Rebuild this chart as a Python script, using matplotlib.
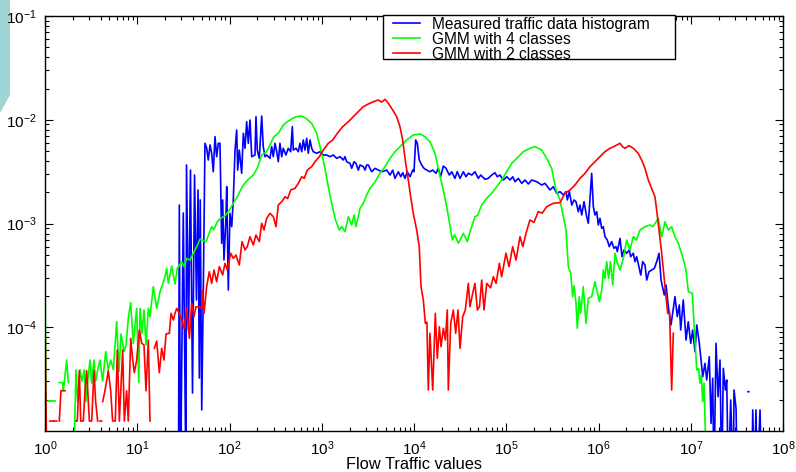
import matplotlib
matplotlib.use("Agg")
import matplotlib.pyplot as plt
import numpy as np
from matplotlib.ticker import LogLocator, FixedLocator, FixedFormatter, NullFormatter
from matplotlib.patches import Polygon, Rectangle

plt.rcParams['font.family'] = ['Liberation Sans', 'DejaVu Sans']
plt.rcParams['mathtext.fontset'] = 'custom'
plt.rcParams['mathtext.rm'] = 'Liberation Sans'
plt.rcParams['mathtext.default'] = 'regular'

nan = np.nan

# values, as log10 of flow traffic value / log10 of frequency
# (nan = empty bins, -5.5 = tiny value below the bottom of the axes)
meas_lx = [1.447, 1.456, 1.469, 1.499, 1.528, 1.534, 1.556, 1.577, 1.599, 1.621, 1.642, 1.659, 1.673,
           1.683, 1.699, 1.716, 1.734, 1.753, 1.770, 1.789, 1.807, 1.824, 1.843, 1.861, 1.879, 1.897,
           1.915, 1.926, 1.940, 1.959, 1.970, 1.987, 2.005, 2.024, 2.041, 2.060, 2.078, 2.089, 2.106,
           2.132, 2.150, 2.168, 2.186, 2.204, 2.222, 2.241, 2.276, 2.287, 2.301, 2.323, 2.349, 2.366,
           2.385, 2.403, 2.439, 2.457, 2.475, 2.493, 2.512, 2.529, 2.547, 2.566, 2.583, 2.612, 2.637,
           2.663, 2.681, 2.692, 2.721, 2.746, 2.764, 2.783, 2.800, 2.818, 2.837, 2.854, 2.873, 2.891,
           2.908, 2.945, 2.981, 3.017, 3.054, 3.089, 3.125, 3.162, 3.198, 3.234, 3.252, 3.270, 3.306,
           3.325, 3.350, 3.371, 3.396, 3.415, 3.451, 3.469, 3.487, 3.505, 3.541, 3.577, 3.613, 3.650,
           3.704, 3.740, 3.769, 3.794, 3.830, 3.856, 3.878, 3.902, 3.927, 3.957, 3.986, 4.000, 4.018,
           4.036, 4.057, 4.083, 4.108, 4.138, 4.173, 4.203, 4.239, 4.263, 4.289, 4.318, 4.347, 4.383,
           4.409, 4.444, 4.469, 4.499, 4.535, 4.564, 4.589, 4.626, 4.661, 4.697, 4.723, 4.770, 4.805,
           4.842, 4.878, 4.903, 4.932, 4.968, 5.005, 5.041, 5.070, 5.095, 5.131, 5.168, 5.203, 5.239,
           5.276, 5.330, 5.384, 5.420, 5.474, 5.510, 5.547, 5.583, 5.619, 5.648, 5.662, 5.684, 5.710,
           5.734, 5.756, 5.781, 5.799, 5.818, 5.843, 5.872, 5.890, 5.926, 5.944, 5.962, 5.981, 5.998,
           6.016, 6.035, 6.052, 6.070, 6.095, 6.117, 6.143, 6.168, 6.190, 6.204, 6.233, 6.255, 6.276,
           6.306, 6.334, 6.349, 6.377, 6.396, 6.414, 6.458, 6.479, 6.504, 6.523, 6.547, 6.577, 6.605,
           6.631, 6.656, 6.678, 6.713, 6.732, 6.757, 6.786, 6.829, 6.854, 6.876, 6.891, 6.919, 6.949,
           6.973, 7.000, 7.021, 7.046, 7.065, 7.093, 7.130, 7.154, 7.173, 7.201, 7.220, 7.238, 7.252,
           7.274, 7.296, 7.317, 7.336, 7.353, 7.375, 7.390, 7.407, 7.433, 7.461, 7.469, 7.491, 7.505,
           7.560, 7.621, 7.629, 7.640, 7.661, 7.672, 7.689, 7.707, 7.721, 7.751, 7.769]
meas_ly = [-5.5, -2.822, -5.5, -2.899, -5.5, -2.436, -4.027, -2.485, -4.634, -2.533, -3.737, -2.677, -4.489,
           -2.773, -4.797, -3.641, -2.227, -2.275, -2.388, -2.243, -2.323, -2.501, -2.163, -2.356, -2.227, -2.227,
           -3.191, -2.773, -3.352, -2.998, -2.645, -3.641, -2.902, -3.031, -2.773, -2.292, -2.099, -2.485, -2.292,
           -2.516, -2.131, -2.275, -2.019, -2.227, -2.003, -2.356, -2.340, -1.971, -2.292, -2.372, -1.964, -2.260,
           -2.356, -2.340, -2.372, -2.260, -2.356, -2.227, -2.308, -2.404, -2.227, -2.356, -2.275, -2.340, -2.275,
           -2.308, -2.067, -2.292, -2.275, -2.308, -2.227, -2.308, -2.195, -2.292, -2.179, -2.323, -2.195, -2.275,
           -2.308, -2.323, -2.308, -2.340, -2.340, -2.356, -2.340, -2.372, -2.356, -2.388, -2.356, -2.404, -2.420,
           -2.468, -2.404, -2.420, -2.485, -2.436, -2.452, -2.485, -2.436, -2.436, -2.501, -2.468, -2.485, -2.501,
           -2.485, -2.533, -2.485, -2.565, -2.501, -2.549, -2.511, -2.565, -2.501, -2.549, -2.485, -2.501, -2.195,
           -2.227, -2.388, -2.436, -2.468, -2.485, -2.501, -2.485, -2.516, -2.468, -2.549, -2.446, -2.468, -2.533,
           -2.501, -2.565, -2.501, -2.565, -2.501, -2.549, -2.516, -2.533, -2.501, -2.565, -2.533, -2.574, -2.565,
           -2.533, -2.511, -2.549, -2.533, -2.581, -2.549, -2.581, -2.549, -2.597, -2.565, -2.613, -2.581, -2.619,
           -2.581, -2.597, -2.629, -2.613, -2.677, -2.645, -2.709, -2.693, -2.725, -2.693, -2.773, -2.693, -2.822,
           -2.773, -2.790, -2.886, -2.822, -2.918, -2.790, -2.934, -2.998, -2.516, -2.838, -2.918, -2.886, -3.014,
           -2.950, -3.047, -3.031, -3.127, -3.159, -3.223, -3.175, -3.239, -3.223, -3.272, -3.143, -3.320, -3.255,
           -3.287, -3.255, -3.320, -3.287, -3.368, -3.320, -3.497, -3.368, -3.400, -3.545, -3.465, -3.448, -3.432,
           -3.368, -3.287, -3.545, -3.689, -3.593, -3.802, -3.978, -3.705, -3.898, -3.785, -4.027, -3.737, -4.123,
           -3.947, -4.155, -4.027, -4.236, -3.978, -4.155, -4.477, -4.348, -4.508, -4.284, -4.926, -4.492, -5.5,
           -4.155, -4.669, -4.316, -5.5, -4.396, -4.605, -4.508, -5.5, -4.701, -5.5, -4.605, -4.782, -5.5,
           nan, -4.621, -4.621, nan, -5.5, -4.797, -5.5, -4.797, -5.5, -4.797, -5.5]

gmm4_lx = [0.000, 0.020, nan, 0.036, 0.070, nan, 0.080, 0.110, nan,
           0.155, 0.192, 0.199, 0.235, 0.253, nan,
           0.307, 0.336, 0.354, 0.379, 0.401, 0.426, 0.444, 0.463, 0.488, 0.506, 0.531, 0.549, 0.571,
           0.596, 0.625, 0.658, 0.686, 0.712, 0.741, 0.777, 0.802, 0.824, 0.856, 0.878, 0.903, 0.929,
           0.957, 0.994, 1.016, 1.030, 1.051, 1.073, 1.095, 1.120, 1.138, 1.174, 1.211, 1.247, 1.301,
           1.319, 1.337, 1.373, 1.409, 1.434, 1.482, 1.507, 1.536, 1.572, 1.626, 1.662, 1.680, 1.745,
           1.807, 1.830, 1.868, 1.904, 1.951, 1.998, 2.041, 2.085, 2.121, 2.150, 2.204, 2.258, 2.301,
           2.349, 2.403, 2.447, 2.482, 2.529, 2.583, 2.627, 2.685, 2.728, 2.783, 2.829, 2.891, 2.945,
           2.981, 3.024, 3.071, 3.107, 3.144, 3.190, 3.215, 3.252, 3.288, 3.325, 3.350, 3.371, 3.415,
           3.451, 3.487, 3.523, 3.577, 3.631, 3.686, 3.740, 3.794, 3.848, 3.920, 3.992, 4.065, 4.119,
           4.173, 4.228, 4.275, 4.318, 4.361, 4.416, 4.440, 4.481, 4.535, 4.578, 4.607, 4.661, 4.690,
           4.734, 4.788, 4.842, 4.897, 4.951, 5.005, 5.059, 5.113, 5.185, 5.257, 5.312, 5.384, 5.438,
           5.492, 5.539, 5.583, 5.619, 5.648, 5.673, 5.699, 5.720, 5.735, 5.756, 5.770, 5.792, 5.807,
           5.835, 5.864, 5.890, 5.926, 5.962, 6.009, 6.035, 6.052, 6.070, 6.089, 6.110, 6.130, 6.154,
           6.179, 6.200, 6.233, 6.269, 6.306, 6.341, 6.377, 6.410, 6.450, 6.504, 6.558, 6.590, 6.648,
           6.685, 6.721, 6.757, 6.793, 6.829, 6.865, 6.912, 6.948, 6.974, 7.017, 7.039, 7.065, 7.085,
           7.100, 7.115, 7.129, 7.144, 7.173]
gmm4_ly = [-3.53, -5.5, nan, -4.71, -4.71, nan, -4.71, -4.71, nan,
           -4.534, -4.534, -4.61, -4.316, -4.534, nan,
           -5.5, -4.41, -4.717, -4.41, -4.52, -4.41, -4.717, -4.52, -4.316, -4.54, -4.316, -4.52, -4.41,
           -4.316, -4.52, -4.235, -4.41, -4.316, -4.41, -3.946, -4.428, -4.065, -4.235, -4.171, -3.914, -3.763,
           -4.155, -3.818, -4.534, -3.818, -4.06, -3.834, -4.171, -3.818, -3.898, -3.609, -3.818, -3.657, -3.513,
           -3.432, -3.577, -3.41, -3.583, -3.432, -3.368, -3.416, -3.336, -3.352, -3.255, -3.191, -3.15, -3.175,
           -3.031, -3.06, -2.983, -2.95, -2.928, -2.87, -2.805, -2.742, -2.677, -2.629, -2.574, -2.532, -2.468,
           -2.34, -2.308, -2.227, -2.163, -2.131, -2.051, -2.019, -1.986, -1.97, -1.964, -1.986, -2.034, -2.131,
           -2.259, -2.42, -2.645, -2.805, -2.95, -3.063, -3.03, -3.079, -2.934, -3.014, -2.918, -3.031, -2.854,
           -2.805, -2.725, -2.661, -2.6, -2.516, -2.452, -2.372, -2.308, -2.259, -2.195, -2.147, -2.137, -2.163,
           -2.212, -2.324, -2.516, -2.677, -2.87, -3.159, -3.11, -3.191, -3.095, -3.175, -3.079, -2.934, -2.92,
           -2.822, -2.757, -2.709, -2.645, -2.581, -2.501, -2.42, -2.372, -2.308, -2.275, -2.259, -2.292, -2.372,
           -2.468, -2.677, -2.773, -2.934, -3.063, -3.416, -3.48, -3.705, -3.6, -3.769, -4.01, -3.705, -3.866,
           -3.609, -3.962, -3.721, -3.705, -3.561, -3.753, -3.641, -3.448, -3.53, -3.368, -3.53, -3.368, -3.593,
           -3.287, -3.368, -3.448, -3.336, -3.159, -3.255, -3.127, -3.16, -3.063, -3.031, -3.014, -3.031, -2.95,
           -3.127, -2.983, -3.063, -3.031, -3.127, -3.191, -3.32, -3.448, -3.657, -3.673, -4.027, -4.412, -4.40,
           -4.54, -4.46, -4.717, -4.54, -5.5]

gmm2_lx = [0.000, 0.020, nan, 0.054, 0.083, nan, 0.098, 0.127, nan,
           0.155, 0.173, 0.217, nan,
           0.336, 0.350, 0.372, 0.387, 0.415, 0.434, 0.452, 0.481, 0.506, 0.531, 0.549, 0.571, nan,
           0.596, 0.614, nan,
           0.625, 0.650, 0.686, 0.712, 0.733, 0.762, 0.784, 0.806, 0.842, 0.860, 0.885, 0.903, 0.929,
           0.951, 0.968, 0.994, 1.023, 1.048, 1.073, 1.095, 1.120, 1.138, nan,
           1.185, 1.211, 1.239, 1.265, 1.290, 1.312, 1.348, 1.366, 1.391, 1.409, 1.428, 1.456, 1.482,
           1.507, 1.536, 1.565, 1.590, 1.615, 1.637, 1.673, 1.699, 1.709, 1.724, 1.752, 1.781, 1.807,
           1.832, 1.861, 1.890, 1.926, 1.951, 1.977, 2.013, 2.041, 2.070, 2.106, 2.136, 2.168, 2.193,
           2.222, 2.258, 2.287, 2.323, 2.349, 2.374, 2.403, 2.439, 2.475, 2.504, 2.529, 2.566, 2.602,
           2.630, 2.664, 2.710, 2.746, 2.783, 2.810, 2.844, 2.891, 2.927, 2.974, 3.017, 3.071, 3.119,
           3.169, 3.227, 3.288, 3.342, 3.396, 3.451, 3.505, 3.559, 3.613, 3.650, 3.686, 3.722, 3.769,
           3.812, 3.848, 3.877, 3.910, 3.938, 3.964, 3.992, 4.029, 4.057, 4.076, 4.101, 4.123, 4.140,
           4.155, 4.173, 4.203, 4.231, 4.253, 4.275, 4.293, 4.318, 4.340, 4.361, 4.372, 4.398, 4.426,
           4.452, 4.477, 4.499, 4.528, 4.556, 4.589, 4.607, 4.636, 4.661, 4.687, 4.710, 4.734, 4.759,
           4.788, 4.830, 4.860, 4.890, 4.925, 4.950, 4.997, 5.030, 5.070, 5.106, 5.149, 5.180, 5.214,
           5.257, 5.300, 5.347, 5.390, 5.438, 5.510, 5.583, 5.637, 5.691, 5.745, 5.799, 5.854, 5.908,
           5.962, 6.016, 6.070, 6.125, 6.179, 6.233, 6.260, 6.287, 6.330, 6.377, 6.431, 6.467, 6.504,
           6.540, 6.576, 6.612, 6.637, 6.656, 6.685, 6.711, 6.732, 6.750, 6.770, 6.793, 6.811]
gmm2_ly = [-3.90, -5.5, nan, -4.904, -4.904, nan, -4.904, -4.904, nan,
           -4.904, -4.612, -4.612, nan,
           -4.904, -4.904, -4.419, -4.904, -4.904, -4.612, -4.419, -4.904, -4.904, -4.419, -4.717, -4.904, nan,
           -4.904, -4.904, nan,
           -4.717, -4.612, -4.419, -4.612, -4.904, -4.904, -4.219, -4.904, -4.219, -4.904, -4.612, -4.904, -4.107,
           -4.316, -4.438, -4.316, -4.027, -4.155, -4.171, -4.612, -4.123, -4.904, nan,
           -4.203, -4.133, -4.438, -4.203, -4.316, -4.065, -4.058, -3.866, -3.93, -3.866, -3.818, -3.866, -3.93,
           -4.01, -3.818, -4.107, -3.769, -3.898, -3.802, -3.802, -3.818, -3.641, -3.866, -3.609, -3.465, -3.577,
           -3.448, -3.561, -3.416, -3.496, -3.384, -3.448, -3.287, -3.336, -3.304, -3.4, -3.175, -3.255, -3.223,
           -3.127, -3.207, -3.111, -3.175, -2.998, -3.063, -2.95, -2.902, -2.934, -3.031, -2.822, -2.79, -2.742,
           -2.76, -2.677, -2.661, -2.613, -2.549, -2.565, -2.484, -2.452, -2.404, -2.356, -2.292, -2.227, -2.195,
           -2.131, -2.067, -2.019, -1.97, -1.922, -1.874, -1.848, -1.826, -1.81, -1.83, -1.803, -1.842, -1.906,
           -1.97, -2.067, -2.195, -2.42, -2.581, -2.742, -2.902, -3.063, -3.223, -3.609, -3.737, -3.962, -3.95,
           -4.605, -4.058, -4.605, -3.866, -4.299, -3.995, -4.187, -4.01, -4.123, -3.834, -4.605, -3.962, -3.834,
           -4.058, -3.834, -4.203, -3.898, -3.834, -3.577, -3.802, -3.673, -3.577, -3.834, -3.80, -3.545, -3.834,
           -3.577, -3.62, -3.513, -3.577, -3.384, -3.513, -3.287, -3.416, -3.223, -3.352, -3.127, -3.223, -3.095,
           -2.966, -2.99, -2.886, -2.90, -2.838, -2.805, -2.799, -2.709, -2.677, -2.629, -2.565, -2.516, -2.452,
           -2.404, -2.356, -2.308, -2.275, -2.253, -2.227, -2.26, -2.275, -2.25, -2.275, -2.324, -2.388, -2.468,
           -2.581, -2.661, -2.742, -2.918, -3.063, -3.287, -3.513, -3.705, -3.866, -3.85, -4.605, -4.058]

labels = ['Measured traffic data histogram', 'GMM with 4 classes', 'GMM with 2 classes']
x_tick_labels = ['$10^{%d}$' % k for k in range(0, 9)]
y_tick_labels = ['$10^{-4}$', '$10^{-3}$', '$10^{-2}$', '$10^{-1}$']

fig = plt.figure(figsize=(7.96, 4.72), dpi=100)
ax = fig.add_axes([45 / 796, 1 - 431 / 472, 738 / 796, 415 / 472])

ax.plot(10.0 ** np.array(meas_lx), 10.0 ** np.array(meas_ly), color='#0000ff', lw=1.2, label=labels[0])
ax.plot(10.0 ** np.array(gmm4_lx), 10.0 ** np.array(gmm4_ly), color='#00ff00', lw=1.2, label=labels[1])
ax.plot(10.0 ** np.array(gmm2_lx), 10.0 ** np.array(gmm2_ly), color='#ff0000', lw=1.2, label=labels[2])

ax.set_xscale('log')
ax.set_yscale('log')
ax.set_xlim(1, 1e8)
ax.set_ylim(1e-5, 1e-1)

ax.xaxis.set_major_locator(FixedLocator([10.0 ** k for k in range(0, 9)]))
ax.xaxis.set_major_formatter(FixedFormatter(x_tick_labels))
ax.yaxis.set_major_locator(FixedLocator([1e-4, 1e-3, 1e-2, 1e-1]))
ax.yaxis.set_major_formatter(FixedFormatter(y_tick_labels))
ax.xaxis.set_minor_locator(LogLocator(base=10, subs=np.arange(2, 10), numticks=20))
ax.yaxis.set_minor_locator(LogLocator(base=10, subs=np.arange(2, 10), numticks=20))
ax.xaxis.set_minor_formatter(NullFormatter())
ax.yaxis.set_minor_formatter(NullFormatter())

ax.tick_params(which='both', direction='in', top=True, right=True, width=0.8, colors='black')
ax.tick_params(which='major', length=5.5, labelsize=11, pad=6)
ax.tick_params(which='minor', length=3)
for s in ax.spines.values():
    s.set_linewidth(1.0)
    s.set_color('black')

ax.set_xlabel('Flow Traffic values', fontsize=11.8, labelpad=-1)

# legend box drawn by hand so the side padding can differ from the top/bottom padding
box = Rectangle((0.458, 0.8964), 0.3956, 0.106, transform=ax.transAxes, facecolor='white',
                edgecolor='black', linewidth=1.0, clip_on=False, zorder=4)
ax.add_patch(box)
leg = ax.legend(loc='upper left', bbox_to_anchor=(0.4715, 0.998), borderaxespad=0, fontsize=11.2,
                frameon=False, handlelength=1.75, handletextpad=0.75, labelspacing=0.0, borderpad=0.0)
leg.set_zorder(5)

# light teal mark in the top-left corner of the page
fig.patches.append(Polygon([(0, 1), (10 / 796, 1), (10 / 796, 1 - 95 / 472), (0, 1 - 113 / 472)],
                           closed=True, transform=fig.transFigure, facecolor='#9fd4d4',
                           edgecolor='none', zorder=-1))

fig.savefig('out.png', dpi=100)
